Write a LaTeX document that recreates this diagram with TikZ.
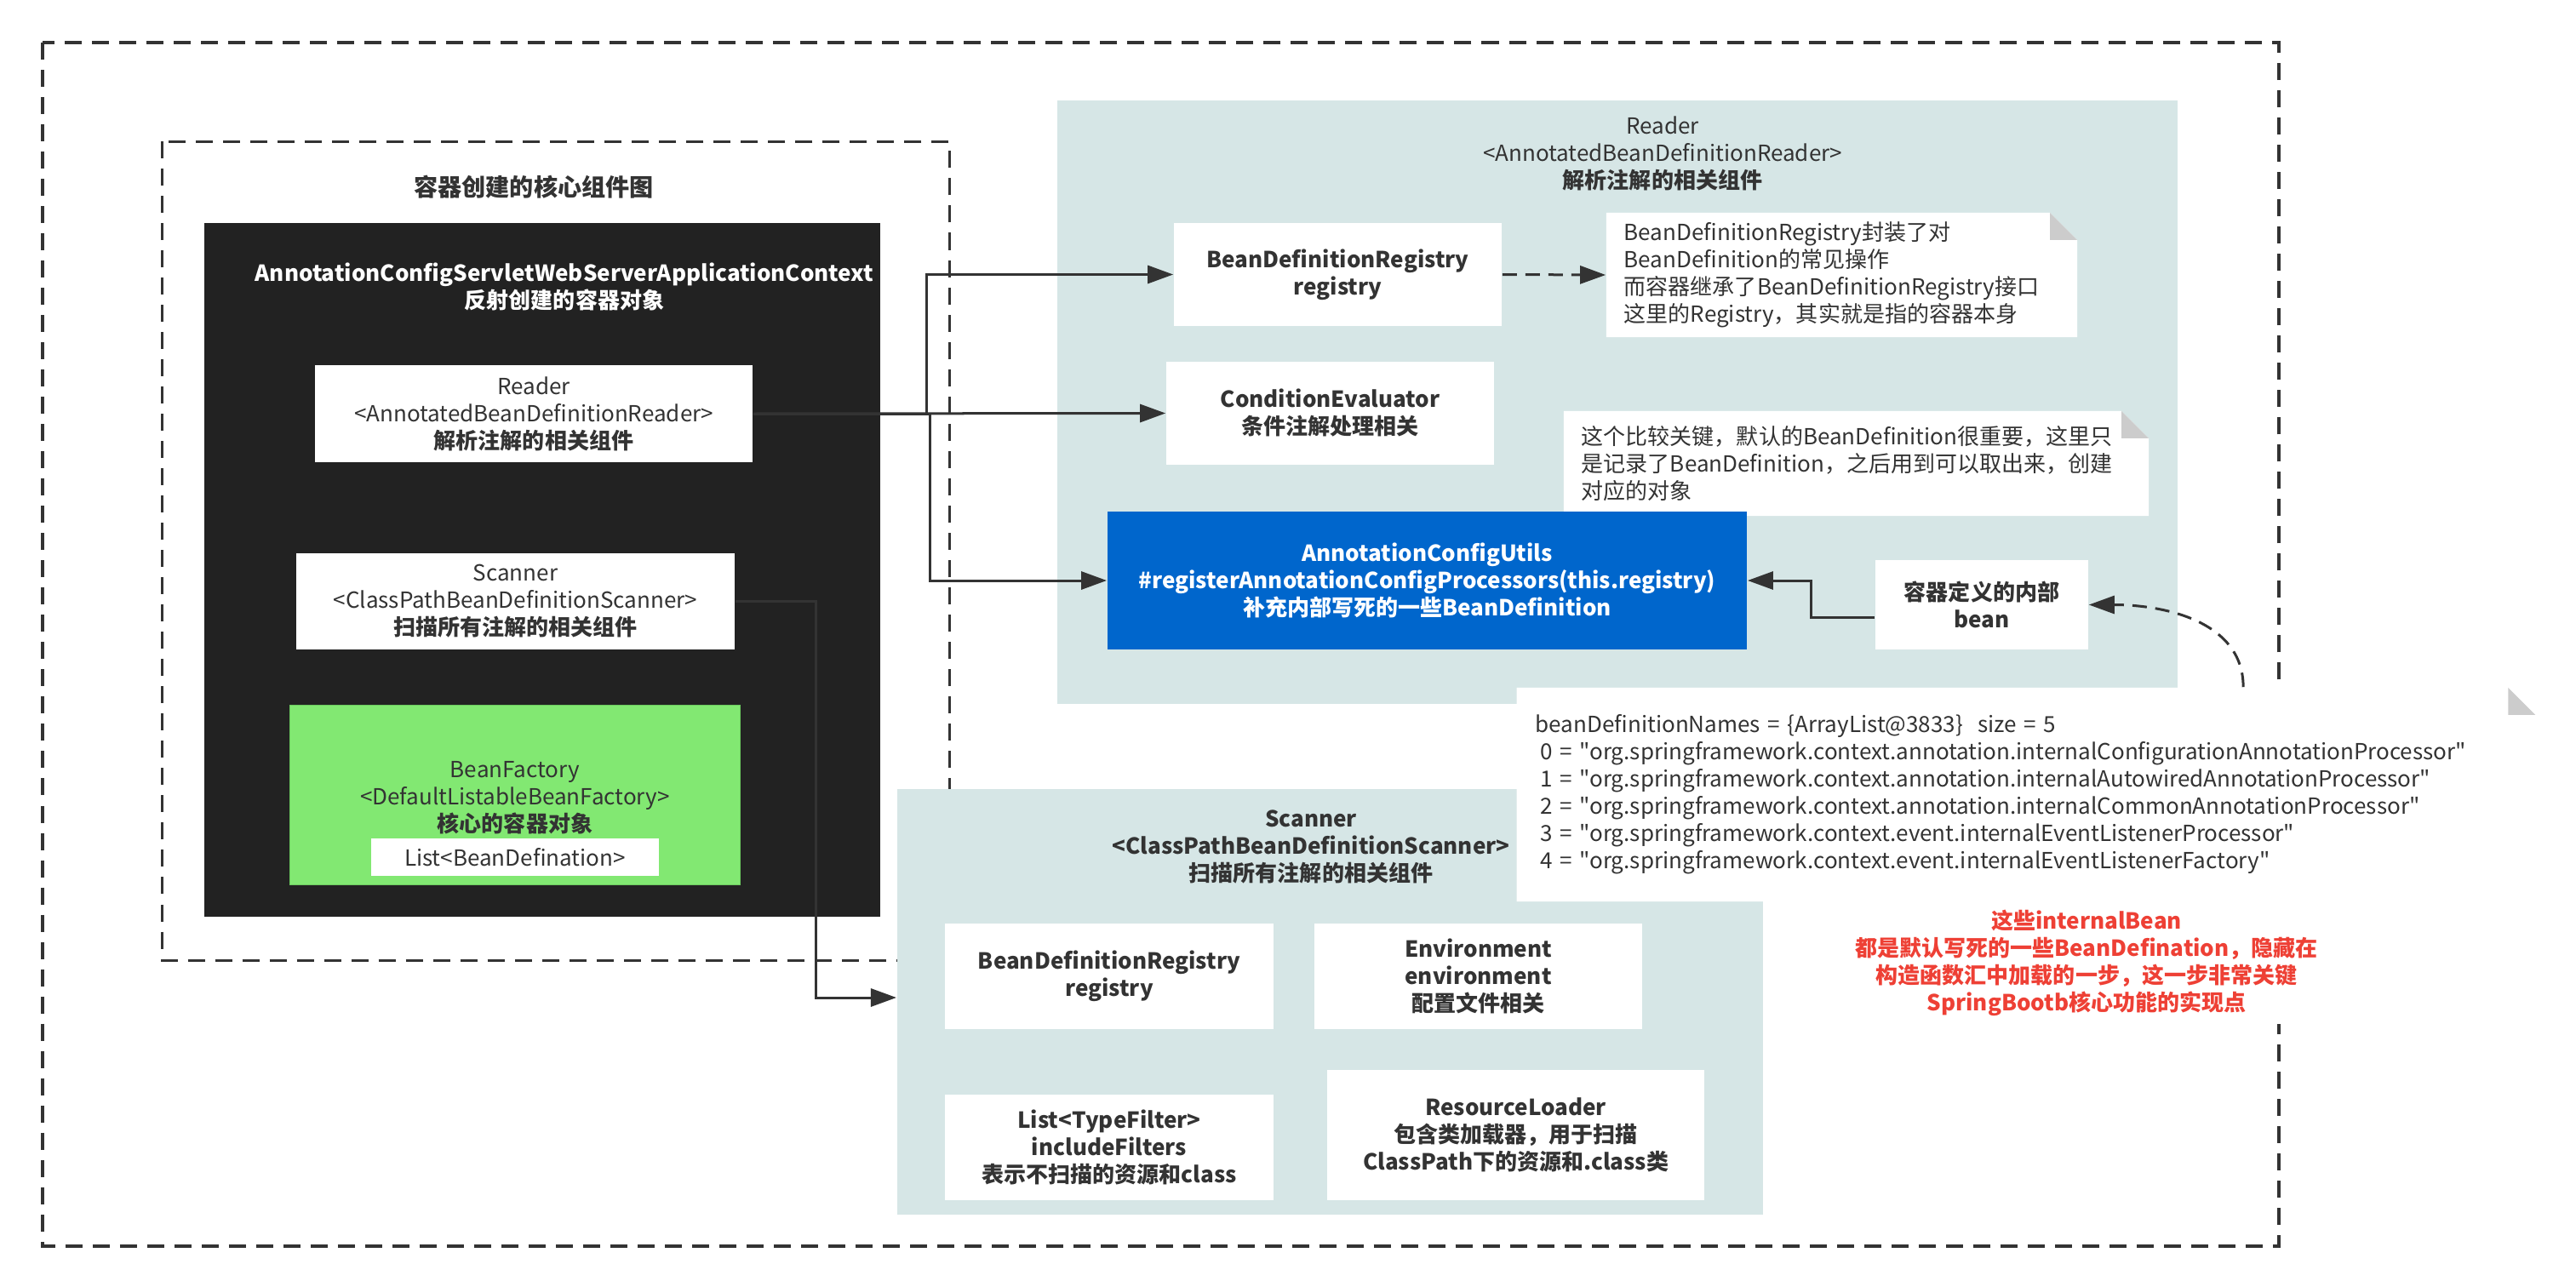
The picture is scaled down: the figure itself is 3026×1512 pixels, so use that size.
\documentclass[tikz,border=0pt]{standalone}
\usepackage{fontspec}
\setmainfont{Noto Sans CJK SC}[Ligatures=TeXOff]
\usepackage{tikz}
\usetikzlibrary{arrows.meta}

\definecolor{txtgray}{HTML}{333333}
\definecolor{ctxblack}{HTML}{222222}
\definecolor{panelteal}{HTML}{D6E6E6}
\definecolor{bfgreen}{HTML}{82E872}
\definecolor{bfedge}{HTML}{6CCB5F}
\definecolor{utilsblue}{HTML}{0066CC}
\definecolor{notered}{HTML}{EE4035}
\definecolor{foldgray}{HTML}{CCCCCC}

\begin{document}
\begin{tikzpicture}[x=0.01cm, y=-0.01cm,
		every node/.style={inner sep=0pt, align=center, text=txtgray, font=\fontsize{7.4pt}{9.1pt}\selectfont},
		wbox/.style={fill=white},
		bold/.style={font=\fontsize{7.4pt}{9.1pt}\selectfont\bfseries},
		panel/.style={fill=panelteal},
		note/.style={align=left, inner xsep=0.21cm, path picture={
				\fill [white] (path picture bounding box.south west) -- (path picture bounding box.north west)
					-- ([xshift=-0.32cm]path picture bounding box.north east) -- ([yshift=-0.32cm]path picture bounding box.north east)
					-- (path picture bounding box.south east) -- cycle;
				\fill [foldgray] ([xshift=-0.32cm]path picture bounding box.north east) -- ([xshift=-0.32cm, yshift=-0.32cm]path picture bounding box.north east)
					-- ([yshift=-0.32cm]path picture bounding box.north east) -- cycle;}},
		link/.style={draw=txtgray, line width=0.03cm, -{Triangle[length=0.3cm, width=0.21cm]}},
		dlink/.style={link, dash pattern=on 0.17cm off 0.1cm},
		grp/.style={draw=txtgray, dash pattern=on 0.2cm off 0.12cm}]
		\useasboundingbox (0, 0) rectangle (3026, 1512);

		\draw [grp, line width=0.04cm] (50, 50) rectangle (2677, 1464);
		\draw [grp, line width=0.03cm] (190, 166) rectangle (1115, 1128);

		% left: the context object
		\node (title) [font=\fontsize{8pt}{9.6pt}\selectfont\bfseries] at (627, 220) {容器创建的核心组件图};
		\node (ctx) [fill=ctxblack, minimum width=7.94cm, minimum height=8.15cm] at (637, 669.5) {};
		\node (ctxtext) [bold, text=white] at (663, 337) {AnnotationConfigServletWebServerApplicationContext\\反射创建的容器对象};
		\node (rdr) [wbox, minimum width=5.14cm, minimum height=1.14cm] at (627, 486) {Reader\\<AnnotatedBeanDefinitionReader>\\\textbf{解析注解的相关组件}};
		\node (scn) [wbox, minimum width=5.15cm, minimum height=1.13cm] at (605.5, 706.5) {Scanner\\<ClassPathBeanDefinitionScanner>\\\textbf{扫描所有注解的相关组件}};
		\node (bf) [fill=bfgreen, draw=bfedge, line width=0.01cm, minimum width=5.28cm, minimum height=2.1cm] at (605, 934) {\\[-0.06cm]BeanFactory\\<DefaultListableBeanFactory>\\\textbf{核心的容器对象}};
		\node (lst) [wbox, minimum width=3.38cm, minimum height=0.44cm] at (605, 1007) {List<BeanDefination>};

		% reader
		\node (rpanel) [panel, minimum width=13.16cm, minimum height=7.09cm] at (1900, 472.5) {};
		\node (rtitle) at (1953, 180) {Reader\\<AnnotatedBeanDefinitionReader>\\\textbf{解析注解的相关组件}};
		\node (bdr) [wbox, bold, minimum width=3.85cm, minimum height=1.21cm] at (1571.5, 322.5) {BeanDefinitionRegistry\\registry};
		\node (cond) [wbox, bold, minimum width=3.85cm, minimum height=1.21cm] at (1562.5, 485.5) {ConditionEvaluator\\条件注解处理相关};
		\node (note1) [note, minimum height=1.46cm, text width=5.11cm] at (2163.5, 323) {BeanDefinitionRegistry封装了对\\BeanDefinition的常见操作\\而容器继承了BeanDefinitionRegistry接口\\这里的Registry，其实就是指的容器本身};
		\node (note2) [note, minimum height=1.23cm, text width=6.45cm] at (2180.5, 544.5) {这个比较关键，默认的BeanDefinition很重要，这里只\\是记录了BeanDefinition，之后用到可以取出来，创建\\对应的对象};
		\node (utils) [fill=utilsblue, bold, text=white, minimum width=7.51cm, minimum height=1.62cm] at (1676.5, 682) {AnnotationConfigUtils\\\#registerAnnotationConfigProcessors(this.registry)\\补充内部写死的一些BeanDefinition};
		\node (bean) [wbox, bold, minimum width=2.5cm, minimum height=1.05cm] at (2328, 710.5) {容器定义的内部\\bean};

		% scanner
		\node (spanel) [panel, minimum width=10.17cm, minimum height=5cm] at (1562.5, 1177) {};
		\node (stitle) [bold] at (1540, 995) {Scanner\\<ClassPathBeanDefinitionScanner>\\扫描所有注解的相关组件};
		\node (sbdr) [wbox, bold, minimum width=3.86cm, minimum height=1.24cm] at (1303, 1147) {BeanDefinitionRegistry\\registry};
		\node (env) [wbox, bold, minimum width=3.85cm, minimum height=1.24cm] at (1736.5, 1147) {Environment\\environment\\配置文件相关};
		\node (filt) [wbox, bold, minimum width=3.86cm, minimum height=1.24cm] at (1303, 1348) {List<TypeFilter>\\includeFilters\\表示不扫描的资源和class};
		\node (res) [wbox, bold, minimum width=4.43cm, minimum height=1.53cm] at (1780.5, 1333.5) {ResourceLoader\\包含类加载器，用于扫描\\ClassPath下的资源和.class类};

		\node (code) [note, inner xsep=0.22cm, minimum height=2.51cm, text width=11.52cm] at (2380, 933.5) {beanDefinitionNames = \{ArrayList@3833\}\ \ size = 5\\
			\hspace*{0.06cm}0 = "org.springframework.context.annotation.internalConfigurationAnnotationProcessor"\\
			\hspace*{0.06cm}1 = "org.springframework.context.annotation.internalAutowiredAnnotationProcessor"\\
			\hspace*{0.06cm}2 = "org.springframework.context.annotation.internalCommonAnnotationProcessor"\\
			\hspace*{0.06cm}3 = "org.springframework.context.event.internalEventListenerProcessor"\\
			\hspace*{0.06cm}4 = "org.springframework.context.event.internalEventListenerFactory"};
		\node (internal) [fill=white, bold, text=notered, minimum width=5.6cm, minimum height=1.44cm] at (2451, 1131) {这些internalBean\\都是默认写死的一些BeanDefination，隐藏在\\构造函数汇中加载的一步，这一步非常关键\\SpringBootb核心功能的实现点};

		\draw [link] (rdr.east) -- ++(204, 0) |- (bdr.west);
		\draw [link] (rdr.east) -- (cond.west);
		\draw [link] (rdr.east) -- ++(208, 0) |- (utils.west);
		\draw [link] (scn.east) -- ++(95, 0) |- ([yshift=0.05cm]spanel.west);
		\draw [link] ([yshift=-0.145cm]bean.west) -- ++(-75, 0) |- (utils.east);
		\draw [dlink] (bdr.east) -- (note1.west);
		\draw [dlink] ([xshift=2.55cm]code.north) .. controls ([xshift=2.55cm, yshift=0.78cm]code.north) and ([xshift=0.87cm]bean.east) .. (bean.east);

	\end{tikzpicture}
\end{document}
